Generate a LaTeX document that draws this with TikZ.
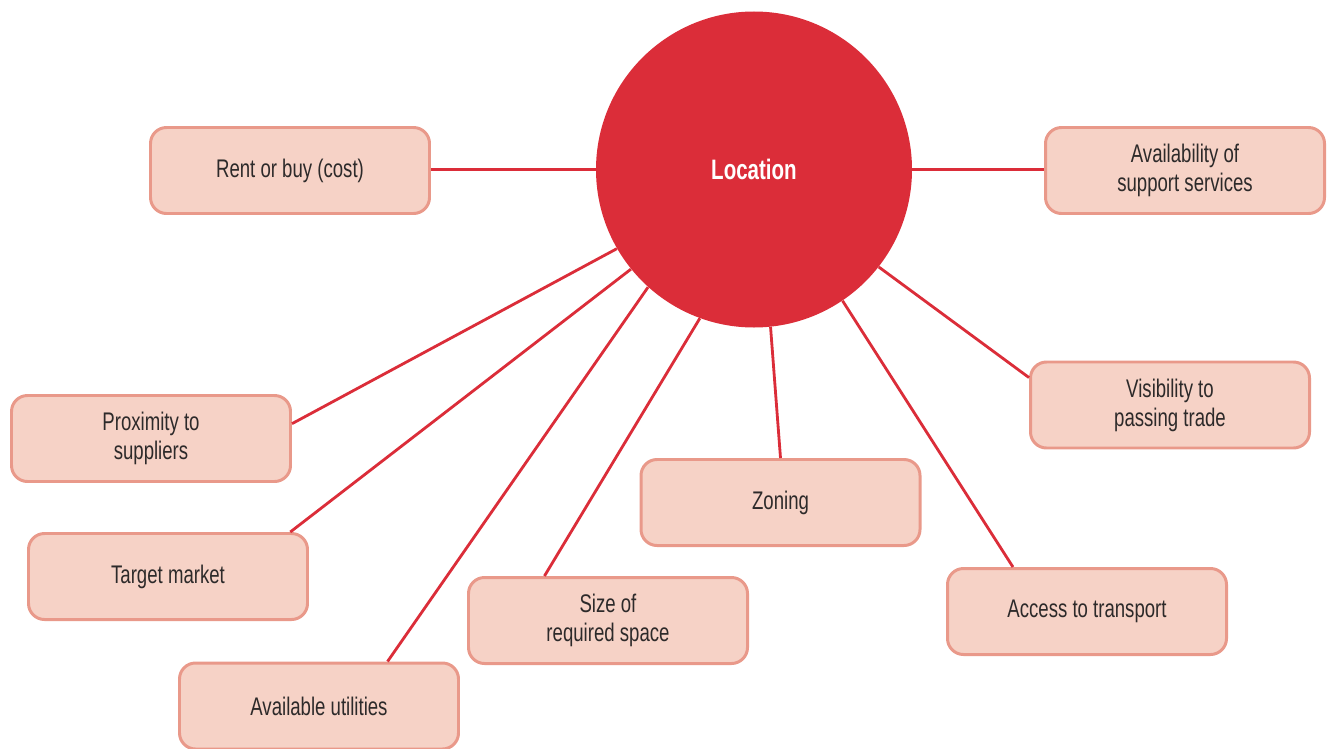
\documentclass[tikz,border=0pt]{standalone}
\usepackage{fontspec}
\setmainfont[FakeStretch=0.73]{Liberation Sans}
\usetikzlibrary{positioning}

\definecolor{locred}{RGB}{219,45,57}
\definecolor{boxfill}{RGB}{246,210,198}
\definecolor{boxline}{RGB}{233,153,138}
\definecolor{boxtext}{RGB}{45,42,42}

\begin{document}
\begin{tikzpicture}[
    factor/.style={draw=boxline, fill=boxfill, line width=1.7pt, rounded corners=0.32cm,
                   minimum width=5.58cm, minimum height=1.72cm, align=center,
                   text=boxtext, font=\fontsize{14.5}{16.5}\selectfont},
    hub/.style={circle, fill=locred, minimum size=6.32cm, text=white,
                font=\fontsize{16}{18}\selectfont\bfseries},
    link/.style={draw=locred, line width=1.6pt}]
  \useasboundingbox (0,0) rectangle (26.64,-14.98);

  \node[hub] (loc) at (15.08,-3.39) {Location};

  \node[factor] (rent)   at (5.80,-3.41)   {Rent or buy (cost)};
  \node[factor] (avail)  at (23.70,-3.41)  {Availability of\\support services};
  \node[factor] (vis)    at (23.40,-8.10)  {Visibility to\\passing trade};
  \node[factor] (prox)   at (3.02,-8.77)   {Proximity to\\suppliers};
  \node[factor] (zoning) at (15.61,-10.05) {Zoning};
  \node[factor] (target) at (3.36,-11.53)  {Target market};
  \node[factor] (size)   at (12.16,-12.41) {Size of\\required space};
  \node[factor] (access) at (21.74,-12.23) {Access to transport};
  \node[factor] (util)   at (6.38,-14.12)  {Available utilities};

  % spokes out of the hub
  \path[link]
    (loc.west -| rent.east) edge (loc.west)
    (loc.east)  edge (loc.east -| avail.west)
    (loc.322.7) edge (vis.169)
    (loc.210.3) edge (prox.6)
    (loc.219.3) edge (target.20)
    (loc.228.3) edge (util.33)
    (loc.250.1) edge (size.145)
    (loc.276.9) edge (zoning.north)
    (loc.304.7) edge (access.149);
\end{tikzpicture}
\end{document}
